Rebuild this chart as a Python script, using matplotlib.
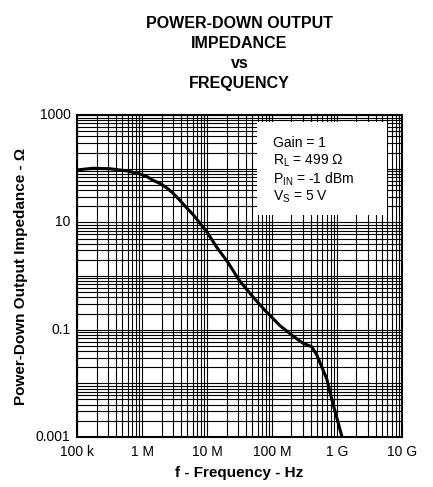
import matplotlib
matplotlib.use('Agg')
import matplotlib.pyplot as plt
from matplotlib.ticker import LogLocator, FixedLocator, FixedFormatter, NullFormatter

plt.rcParams['font.family'] = ['Liberation Sans', 'DejaVu Sans']
plt.rcParams['mathtext.fontset'] = 'custom'
plt.rcParams['mathtext.rm'] = 'Liberation Sans'

# 曲线数据
freq_hz = [1e5, 1.76e5, 3.2e5, 5.9e5, 9.3e5, 1.2e6, 1.47e6, 1.9e6, 2.4e6, 3.0e6, 3.8e6,
           4.8e6, 6.1e6, 1.0e7, 1.4e7, 2.1e7, 3.1e7, 5.0e7, 7.8e7, 1.32e8, 2.0e8,
           3.0e8, 4.1e8, 4.9e8, 7.0e8, 8.4e8, 1.2e9]
impedance = [95, 102, 100, 91, 80, 71, 61, 53, 44, 35, 26,
             19, 14, 6.6, 3.5, 1.8, 0.85, 0.42, 0.23, 0.12, 0.08,
             0.056, 0.048, 0.034, 0.012, 0.0049, 0.001]

x_ticks = [1e5, 1e6, 1e7, 1e8, 1e9, 1e10]
x_labels = ['100 k', '1 M', '10 M', '100 M', '1 G', '10 G']
y_ticks = [1e-3, 1e-1, 1e1, 1e3]
y_labels = ['0.001', '0.1', '10', '1000']

legend_lines = ['Gain = 1', r'$\mathregular{R_L}$ = 499 Ω',
                r'$\mathregular{P_{IN}}$ = -1 dBm', r'$\mathregular{V_S}$ = 5 V']

fig = plt.figure(figsize=(4.33, 4.87), dpi=100)
ax = fig.add_axes([0.178, 0.1027, 0.75, 0.661])
ax.set_xscale('log')
ax.set_yscale('log')
ax.set_xlim(1e5, 1e10)
ax.set_ylim(1e-3, 1e3)

# 网格
ax.xaxis.set_major_locator(FixedLocator(x_ticks))
ax.xaxis.set_major_formatter(FixedFormatter(x_labels))
ax.xaxis.set_minor_locator(LogLocator(base=10, subs=range(2, 10), numticks=20))
ax.xaxis.set_minor_formatter(NullFormatter())
ax.yaxis.set_major_locator(LogLocator(base=10, numticks=20))
ax.yaxis.set_major_formatter(NullFormatter())
ax.yaxis.set_minor_locator(LogLocator(base=10, subs=range(2, 10), numticks=20))
ax.yaxis.set_minor_formatter(NullFormatter())
ax.grid(True, which='both', color='black', linewidth=0.8)
ax.tick_params(which='both', length=0, labelsize=10, pad=6)
for t, lab in zip(y_ticks, y_labels):
    ax.text(-0.02, t, lab, transform=ax.get_yaxis_transform(), ha='right', va='center', fontsize=10)
for s in ax.spines.values():
    s.set_linewidth(1.5)

ax.plot(freq_hz, impedance, color='black', linewidth=2.2, zorder=3)

# 参数框
box = plt.Rectangle((0.554, 0.69), 0.4, 0.29, transform=ax.transAxes,
                    facecolor='white', edgecolor='none', zorder=4)
ax.add_patch(box)
for i, line in enumerate(legend_lines):
    ax.text(0.603, 0.913 - i * 0.056, line, transform=ax.transAxes, fontsize=10,
            va='center', ha='left', zorder=5)

ax.set_xlabel('f - Frequency - Hz', fontsize=11, fontweight='bold', labelpad=5)
ax.set_ylabel('Power-Down Output Impedance - Ω', fontsize=11, fontweight='bold', labelpad=29)
fig.text(0.553, 0.968, 'POWER-DOWN OUTPUT\nIMPEDANCE\nvs\nFREQUENCY', ha='center', va='top',
         fontsize=11.5, fontweight='bold', linespacing=1.42)

fig.savefig('out.png', dpi=100)
